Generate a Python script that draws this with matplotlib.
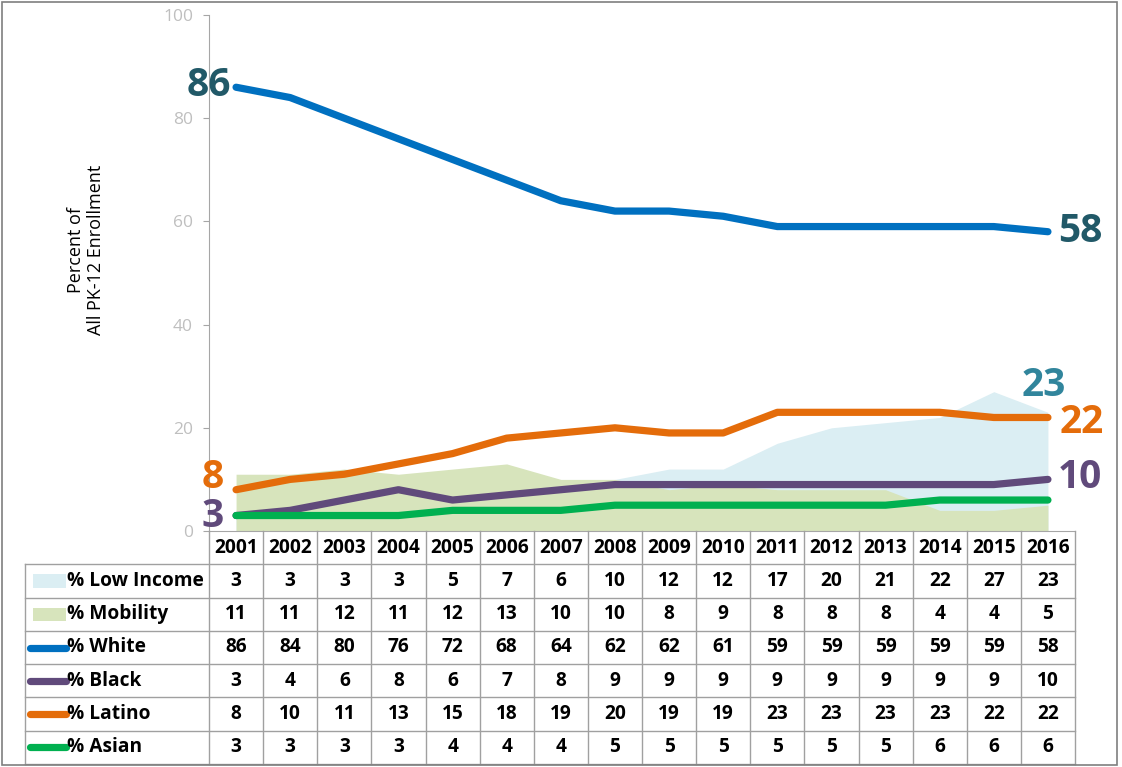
import matplotlib.pyplot as plt
import numpy as np
from matplotlib.patches import Rectangle

plt.rcParams['font.family'] = ['Open Sans', 'DejaVu Sans']

years = [2001, 2002, 2003, 2004, 2005, 2006, 2007, 2008,
         2009, 2010, 2011, 2012, 2013, 2014, 2015, 2016]
low_income = [3, 3, 3, 3, 5, 7, 6, 10, 12, 12, 17, 20, 21, 22, 27, 23]
mobility = [11, 11, 12, 11, 12, 13, 10, 10, 8, 9, 8, 8, 8, 4, 4, 5]
white = [86, 84, 80, 76, 72, 68, 64, 62, 62, 61, 59, 59, 59, 59, 59, 58]
black = [3, 4, 6, 8, 6, 7, 8, 9, 9, 9, 9, 9, 9, 9, 9, 10]
latino = [8, 10, 11, 13, 15, 18, 19, 20, 19, 19, 23, 23, 23, 23, 22, 22]
asian = [3, 3, 3, 3, 4, 4, 4, 5, 5, 5, 5, 5, 5, 6, 6, 6]

row_names = ['% Low Income', '% Mobility', '% White', '% Black', '% Latino', '% Asian']
rows = [low_income, mobility, white, black, latino, asian]
colors = ['#dbeef3', '#d7e4bc', '#0070c0', '#604a7b', '#e46c0a', '#00b050']

W, H = 1122, 767
fig = plt.figure(figsize=(W / 100, H / 100), dpi=100)
x = np.arange(len(years))

# chart area
ax = fig.add_axes([209 / W, 1 - 531 / H, 866 / W, 516 / H])
ax.set_xlim(-0.5, 15.5)
ax.set_ylim(0, 100)
ax.fill_between(x, low_income, color=colors[0], lw=0)
ax.fill_between(x, mobility, color=colors[1], lw=0)
for vals, c in zip(rows[2:], colors[2:]):
    ax.plot(x, vals, color=c, lw=5.2, solid_capstyle='round', solid_joinstyle='round')

for s in ['top', 'right']:
    ax.spines[s].set_visible(False)
for s in ['left', 'bottom']:
    ax.spines[s].set_color('#a6a6a6')
ax.set_yticks([0, 20, 40, 60, 80, 100])
ax.tick_params(axis='y', colors='#a6a6a6', labelcolor='#bfbfbf', labelsize=12.5,
               length=4.5, pad=7)
ax.set_xticks([])

fig.text(86 / W, 1 - 250 / H, 'Percent of\nAll PK-12 Enrollment', rotation=90,
         ha='center', va='center', fontsize=13, linespacing=1.15)

# end labels
def lab(xi, yi, txt, c, dx, dy, ha):
    ax.annotate(txt, (xi, yi), xytext=(dx, dy), textcoords='offset pixels',
                ha=ha, va='center', fontsize=28, color=c, fontweight='bold',
                annotation_clip=False)

lab(0, white[0], str(white[0]), '#215968', -5, 2, 'right')
lab(15, white[-1], str(white[-1]), '#215968', 10, 0, 'left')
lab(15, low_income[-1], str(low_income[-1]), '#31859c', -4, 27, 'center')
lab(15, latino[-1], str(latino[-1]), '#e46c0a', 12, -5, 'left')
lab(15, black[-1], str(black[-1]), '#604a7b', 10, 2, 'left')
lab(0, latino[0], str(latino[0]), '#e46c0a', -12, 12, 'right')
lab(0, black[0], str(black[0]), '#604a7b', -12, -1, 'right')

# data table
tax = fig.add_axes([209 / W, 1 - 764 / H, 866 / W, 233 / H])
tax.set_xlim(-0.5, 15.5)
tax.set_ylim(7, 0)
tax.axis('off')
xl = -0.5 - 184 / 54.125
gc = '#a0a0a0'
for k in range(17):
    tax.plot([k - 0.5, k - 0.5], [0, 7], color=gc, lw=1, clip_on=False)
tax.plot([xl, xl], [1, 7], color=gc, lw=1, clip_on=False)
for r in range(1, 8):
    tax.plot([xl, 15.5], [r, r], color=gc, lw=1, clip_on=False)

fs = 13.8
for i, yr in enumerate(years):
    tax.text(i, 0.5, str(yr), ha='center', va='center', fontsize=fs, fontweight='bold')
for r, (name, vals, c) in enumerate(zip(row_names, rows, colors)):
    yc = r + 1.5
    k0 = (30 - 209) / 54.125 - 0.5
    k1 = (66 - 209) / 54.125 - 0.5
    if r < 2:
        tax.add_patch(Rectangle((k0 + 0.05, yc - 0.2), k1 - k0 - 0.05, 0.4,
                                color=c, lw=0, clip_on=False))
    else:
        tax.plot([k0, k1], [yc, yc], color=c, lw=5.2, solid_capstyle='round',
                 clip_on=False)
    tax.text(k1 + 0.02, yc, name, ha='left', va='center', fontsize=fs, fontweight='bold')
    for i, v in enumerate(vals):
        tax.text(i, yc, str(v), ha='center', va='center', fontsize=fs, fontweight='bold')

fig.patches.append(Rectangle((2 / W, 2 / H), 1115 / W, 763 / H, transform=fig.transFigure,
                             fill=False, edgecolor='#7f7f7f', lw=1.2))

fig.savefig('out.png', dpi=100)
